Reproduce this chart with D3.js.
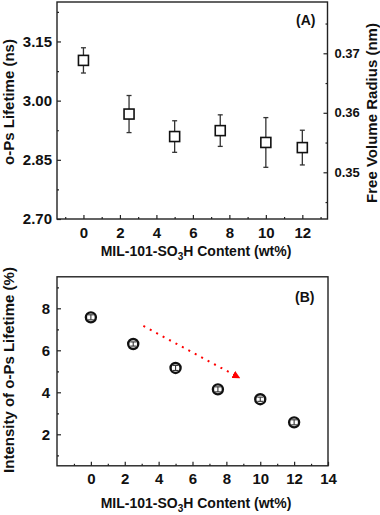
<!DOCTYPE html>
<html>
<head>
<meta charset="utf-8">
<script src="https://cdnjs.cloudflare.com/ajax/libs/d3/7.8.5/d3.min.js"></script>
<style>
  body { margin: 0; background: #fff; }
  text { font-family: "Liberation Sans", Arial, sans-serif; font-weight: bold; fill: #111; }
</style>
</head>
<body>
<script>
// data
var content = [0, 2.5, 5, 7.5, 10, 12];          // wt% of MIL-101-SO3H
var lifetime = [3.102, 2.966, 2.909, 2.924, 2.894, 2.881];   // o-Ps lifetime (ns)
var lifetimeErr = [0.032, 0.047, 0.040, 0.040, 0.063, 0.044];
var intensity = [7.57, 6.30, 5.16, 4.14, 3.67, 2.57];      // o-Ps intensity (%)
var intensityErr = [0.12, 0.10, 0.12, 0.12, 0.10, 0.12];
var trendArrow = [[3.1, 7.16], [8.78, 4.69]];               // red dotted arrow in (B)

var xTicksA = [0, 2, 4, 6, 8, 10, 12];
var yTicksA = [2.70, 2.85, 3.00, 3.15];
var rTicksA = [0.35, 0.36, 0.37];
var xTicksB = [0, 2, 4, 6, 8, 10, 12, 14];
var yTicksB = [2, 4, 6, 8];

var W = 380, H = 515;
var svg = d3.select("body").append("svg")
    .attr("width", W)
    .attr("height", H);

var axisColor = "#222";

// draw a box plus inward ticks
function frame(g, x, y) {
  var r = x.range(), b = y.range();
  g.append("rect")
      .attr("x", r[0]).attr("y", b[1])
      .attr("width", r[1] - r[0]).attr("height", b[0] - b[1])
      .attr("fill", "none").attr("stroke", axisColor).attr("stroke-width", 1.4);
}

function xLabel(g, cx, y) {
  var t = g.append("text")
      .attr("x", cx).attr("y", y)
      .attr("text-anchor", "middle")
      .style("font-size", "14px");
  t.append("tspan").text("MIL-101-SO");
  t.append("tspan").attr("dy", 4).style("font-size", "10px").text("3");
  t.append("tspan").attr("dy", -4).text("H Content (wt%)");
}

// ---------- panel (A) ----------
var xA = d3.scaleLinear().domain([-1.45, 13.38]).range([57, 327.5]);
var yA = d3.scaleLinear().domain([2.70, 3.25]).range([219, 2]);
var rA = d3.scaleLinear().domain([0.34215, 0.37862]).range([219, 2]);

var gA = svg.append("g");
frame(gA, xA, yA);

gA.append("g")
    .attr("transform", "translate(0,219)")
    .call(d3.axisBottom(xA).tickValues(xTicksA).tickSizeInner(-4).tickSizeOuter(0).tickPadding(8).tickFormat(d3.format("d")))
    .call(function(a) { a.select(".domain").remove(); a.selectAll("text").style("font-size", "15px"); });
gA.append("g")
    .attr("transform", "translate(0,219)")
    .call(d3.axisBottom(xA).tickValues(d3.range(-1, 14, 2)).tickSizeInner(-2).tickSizeOuter(0).tickFormat(""))
    .call(function(a) { a.select(".domain").remove(); });

gA.append("g")
    .attr("transform", "translate(57,0)")
    .call(d3.axisLeft(yA).tickValues(yTicksA).tickSizeInner(-4).tickSizeOuter(0).tickPadding(5).tickFormat(d3.format(".2f")))
    .call(function(a) { a.select(".domain").remove(); a.selectAll("text").style("font-size", "15px"); });
gA.append("g")
    .attr("transform", "translate(57,0)")
    .call(d3.axisLeft(yA).tickValues([2.775, 2.925, 3.075, 3.225]).tickSizeInner(-2).tickSizeOuter(0).tickFormat(""))
    .call(function(a) { a.select(".domain").remove(); });

gA.append("g")
    .attr("transform", "translate(327.5,0)")
    .call(d3.axisRight(rA).tickValues(rTicksA).tickSizeInner(-4).tickSizeOuter(0).tickPadding(7).tickFormat(d3.format(".2f")))
    .call(function(a) { a.select(".domain").remove(); a.selectAll("text").style("font-size", "13px"); });
gA.append("g")
    .attr("transform", "translate(327.5,0)")
    .call(d3.axisRight(rA).tickValues([0.345, 0.355, 0.365, 0.375]).tickSizeInner(-2).tickSizeOuter(0).tickFormat(""))
    .call(function(a) { a.select(".domain").remove(); });

gA.selectAll(".tick line").attr("stroke", axisColor).attr("stroke-width", 1.2);
gA.selectAll(".tick text").style("fill", "#111");

// error bars A
var ptsA = content.map(function(c, i) { return {x: c, y: lifetime[i], e: lifetimeErr[i]}; });
var errA = gA.append("g").attr("stroke", "#333").attr("stroke-width", 1.3);
errA.selectAll(".v").data(ptsA).enter().append("line")
    .attr("x1", function(d) { return xA(d.x); }).attr("x2", function(d) { return xA(d.x); })
    .attr("y1", function(d) { return yA(d.y - d.e); }).attr("y2", function(d) { return yA(d.y + d.e); });
[-1, 1].forEach(function(s) {
  errA.selectAll(".c" + s).data(ptsA).enter().append("line")
      .attr("x1", function(d) { return xA(d.x) - 2.5; }).attr("x2", function(d) { return xA(d.x) + 2.5; })
      .attr("y1", function(d) { return yA(d.y + s * d.e); }).attr("y2", function(d) { return yA(d.y + s * d.e); });
});
gA.selectAll(".sq").data(ptsA).enter().append("rect")
    .attr("x", function(d) { return xA(d.x) - 5; })
    .attr("y", function(d) { return yA(d.y) - 5; })
    .attr("width", 10).attr("height", 10)
    .attr("fill", "#fff").attr("stroke", "#111").attr("stroke-width", 1.6);

gA.append("text").attr("x", 296).attr("y", 25).style("font-size", "14px").text("(A)");
xLabel(gA, 196, 256);
gA.append("text")
    .attr("transform", "translate(13.5,102) rotate(-90)")
    .attr("text-anchor", "middle").style("font-size", "15px")
    .text("o-Ps Lifetime (ns)");
gA.append("text")
    .attr("transform", "translate(377,113) rotate(-90)")
    .attr("text-anchor", "middle").style("font-size", "15px")
    .text("Free Volume Radius (nm)");

// ---------- panel (B) ----------
var xB = d3.scaleLinear().domain([-2, 14]).range([57, 328]);
var yB = d3.scaleLinear().domain([0.5, 9.5]).range([465.8, 276.8]);

var gB = svg.append("g");
frame(gB, xB, yB);

gB.append("g")
    .attr("transform", "translate(0,465.8)")
    .call(d3.axisBottom(xB).tickValues(xTicksB).tickSizeInner(-4).tickSizeOuter(0).tickPadding(8).tickFormat(d3.format("d")))
    .call(function(a) { a.select(".domain").remove(); a.selectAll("text").style("font-size", "15px"); });
gB.append("g")
    .attr("transform", "translate(0,465.8)")
    .call(d3.axisBottom(xB).tickValues(d3.range(-1, 14, 2)).tickSizeInner(-2).tickSizeOuter(0).tickFormat(""))
    .call(function(a) { a.select(".domain").remove(); });
gB.append("g")
    .attr("transform", "translate(57,0)")
    .call(d3.axisLeft(yB).tickValues(yTicksB).tickSizeInner(-4).tickSizeOuter(0).tickPadding(7).tickFormat(d3.format("d")))
    .call(function(a) { a.select(".domain").remove(); a.selectAll("text").style("font-size", "15px"); });
gB.append("g")
    .attr("transform", "translate(57,0)")
    .call(d3.axisLeft(yB).tickValues([1, 3, 5, 7, 9]).tickSizeInner(-2).tickSizeOuter(0).tickFormat(""))
    .call(function(a) { a.select(".domain").remove(); });

gB.selectAll(".tick line").attr("stroke", axisColor).attr("stroke-width", 1.2);
gB.selectAll(".tick text").style("fill", "#111");

// red dotted trend arrow
svg.append("defs").append("marker")
    .attr("id", "head")
    .attr("viewBox", "0 0 10 10").attr("refX", 9).attr("refY", 5)
    .attr("markerWidth", 4).attr("markerHeight", 4).attr("orient", "auto")
    .attr("markerUnits", "strokeWidth")
  .append("path").attr("d", "M0,0L10,5L0,10Z").attr("fill", "#f00");

gB.append("path")
    .datum(trendArrow)
    .attr("d", d3.line().x(function(d) { return xB(d[0]); }).y(function(d) { return yB(d[1]); }))
    .attr("stroke", "#f00").attr("stroke-width", 2)
    .attr("stroke-dasharray", "2,5.3")
    .attr("fill", "none")
    .attr("marker-end", "url(#head)");

// circles with tiny error bars
var ptsB = content.map(function(c, i) { return {x: c, y: intensity[i], e: intensityErr[i]}; });
gB.selectAll(".ci").data(ptsB).enter().append("circle")
    .attr("cx", function(d) { return xB(d.x); })
    .attr("cy", function(d) { return yB(d.y); })
    .attr("r", 5)
    .attr("fill", "#fff").attr("stroke", "#111").attr("stroke-width", 2.4);
var errB = gB.append("g").attr("stroke", "#333").attr("stroke-width", 1.1);
errB.selectAll(".v").data(ptsB).enter().append("line")
    .attr("x1", function(d) { return xB(d.x); }).attr("x2", function(d) { return xB(d.x); })
    .attr("y1", function(d) { return yB(d.y - d.e); }).attr("y2", function(d) { return yB(d.y + d.e); });
[-1, 1].forEach(function(s) {
  errB.selectAll(".c" + s).data(ptsB).enter().append("line")
      .attr("x1", function(d) { return xB(d.x) - 3; }).attr("x2", function(d) { return xB(d.x) + 3; })
      .attr("y1", function(d) { return yB(d.y + s * d.e); }).attr("y2", function(d) { return yB(d.y + s * d.e); });
});

gB.append("text").attr("x", 295).attr("y", 302).style("font-size", "14px").text("(B)");
xLabel(gB, 196, 508);
gB.append("text")
    .attr("transform", "translate(13.5,370) rotate(-90)")
    .attr("text-anchor", "middle").style("font-size", "15px")
    .text("Intensity of o-Ps Lifetime (%)");
</script>
</body>
</html>
